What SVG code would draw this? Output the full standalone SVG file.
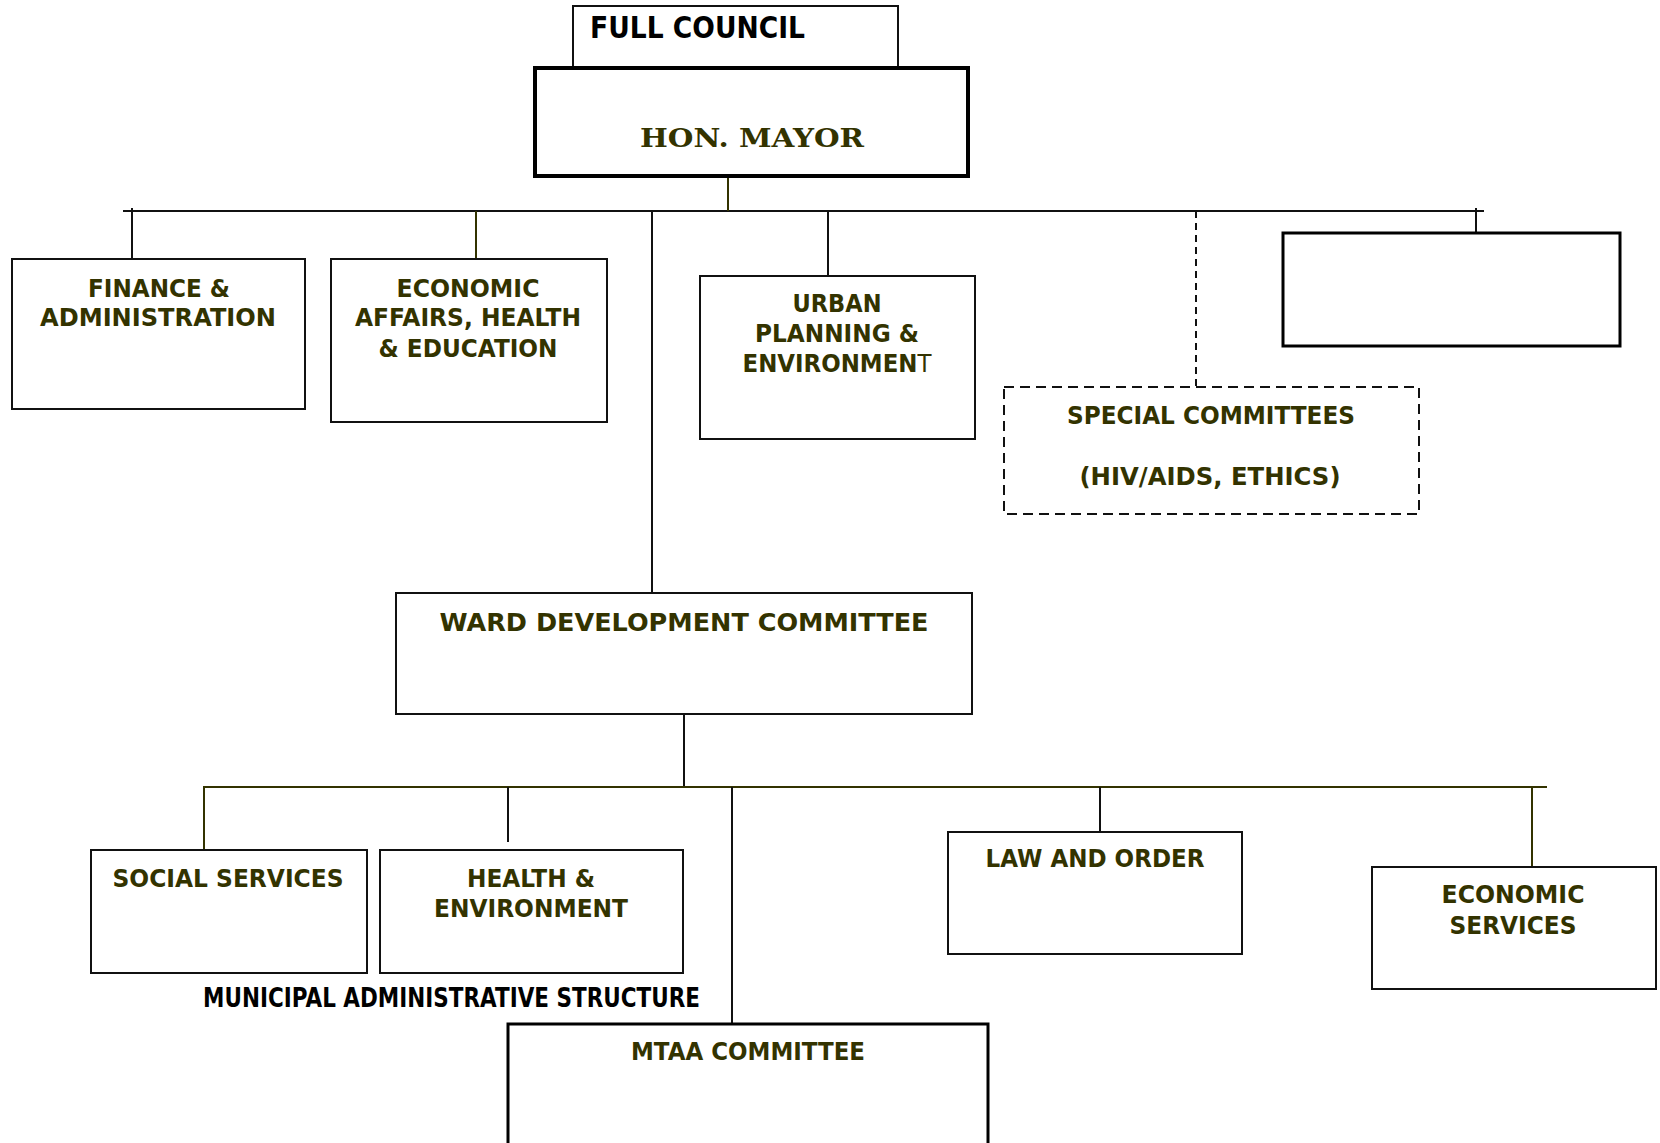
<svg xmlns="http://www.w3.org/2000/svg" width="1660" height="1143" viewBox="0 0 1660 1143">
<style>
.box{fill:#fff;stroke:#111;stroke-width:2}
.t{font-family:"DejaVu Sans",Verdana,sans-serif;font-weight:bold;font-size:25px;fill:#333300;text-anchor:middle}
.k{stroke:#111;stroke-width:2;fill:none}
.o{stroke:#333300;stroke-width:2;fill:none}
</style>
<rect width="1660" height="1143" fill="#fff"/>

<g id="connectors">
<line class="k" x1="123" y1="211" x2="1484" y2="211"/>
<line class="o" x1="728" y1="176" x2="728" y2="211"/>
<line class="k" x1="132" y1="208" x2="132" y2="259"/>
<line class="o" x1="476" y1="211" x2="476" y2="259"/>
<line class="k" x1="652" y1="211" x2="652" y2="595"/>
<line class="k" x1="828" y1="211" x2="828" y2="280"/>
<line class="k" x1="1196" y1="211" x2="1196" y2="387" stroke-dasharray="7 5"/>
<line class="k" x1="1476" y1="208" x2="1476" y2="233"/>
<line class="k" x1="684" y1="712" x2="684" y2="787"/>
<line class="o" x1="203" y1="787" x2="1547" y2="787"/>
<line class="o" x1="204" y1="787" x2="204" y2="850"/>
<line class="k" x1="508" y1="787" x2="508" y2="842"/>
<line class="k" x1="732" y1="787" x2="732" y2="1024"/>
<line class="k" x1="1100" y1="787" x2="1100" y2="841"/>
<line class="o" x1="1532" y1="787" x2="1532" y2="867"/>
</g>

<g id="full-council">
<rect class="box" x="573" y="6" width="325" height="64"/>
<text x="590" y="38" font-family="DejaVu Sans,Verdana,sans-serif" font-weight="bold" font-size="30" fill="#000" textLength="215" lengthAdjust="spacingAndGlyphs">FULL COUNCIL</text>
</g>

<g id="hon-mayor">
<rect x="535" y="68" width="433" height="108" fill="#fff" stroke="#000" stroke-width="4"/>
<text x="640" y="147" font-family="DejaVu Serif,Liberation Serif,serif" font-weight="bold" font-size="26" fill="#333300" textLength="224" lengthAdjust="spacingAndGlyphs">HON. MAYOR</text>
</g>

<g id="finance">
<rect class="box" x="12" y="259" width="293" height="150"/>
<text class="t" x="159" y="297" textLength="142" lengthAdjust="spacingAndGlyphs">FINANCE &amp;</text>
<text class="t" x="158" y="326" textLength="236" lengthAdjust="spacingAndGlyphs">ADMINISTRATION</text>
</g>

<g id="economic-affairs">
<rect class="box" x="331" y="259" width="276" height="163"/>
<text class="t" x="468" y="297" textLength="143" lengthAdjust="spacingAndGlyphs">ECONOMIC</text>
<text class="t" x="468" y="326" textLength="226" lengthAdjust="spacingAndGlyphs">AFFAIRS, HEALTH</text>
<text class="t" x="468" y="357" textLength="179" lengthAdjust="spacingAndGlyphs">&amp; EDUCATION</text>
</g>

<g id="urban-planning">
<rect class="box" x="700" y="276" width="275" height="163"/>
<text class="t" x="837" y="312" textLength="89" lengthAdjust="spacingAndGlyphs">URBAN</text>
<text class="t" x="837" y="342" textLength="164" lengthAdjust="spacingAndGlyphs">PLANNING &amp;</text>
<text class="t" x="837" y="372" textLength="189" lengthAdjust="spacingAndGlyphs">ENVIRONMEN<tspan font-weight="normal">T</tspan></text>
</g>

<g id="special-committees">
<rect x="1004" y="387" width="415" height="127" fill="#fff" stroke="#111" stroke-width="2" stroke-dasharray="10 6"/>
<text class="t" x="1211" y="424" textLength="288" lengthAdjust="spacingAndGlyphs">SPECIAL COMMITTEES</text>
<text class="t" x="1210" y="485" textLength="261" lengthAdjust="spacingAndGlyphs">(HIV/AIDS, ETHICS)</text>
</g>

<g id="empty-box">
<rect x="1283" y="233" width="337" height="113" fill="#fff" stroke="#000" stroke-width="3"/>
</g>

<g id="ward-development">
<rect class="box" x="396" y="593" width="576" height="121"/>
<text class="t" x="684" y="631" textLength="489" lengthAdjust="spacingAndGlyphs">WARD DEVELOPMENT COMMITTEE</text>
</g>

<g id="social-services">
<rect class="box" x="91" y="850" width="276" height="123"/>
<text class="t" x="228" y="887" textLength="231" lengthAdjust="spacingAndGlyphs">SOCIAL SERVICES</text>
</g>

<g id="health-environment">
<rect class="box" x="380" y="850" width="303" height="123"/>
<text class="t" x="531" y="887" textLength="128" lengthAdjust="spacingAndGlyphs">HEALTH &amp;</text>
<text class="t" x="531" y="917" textLength="194" lengthAdjust="spacingAndGlyphs">ENVIRONMENT</text>
</g>

<g id="law-order">
<rect class="box" x="948" y="832" width="294" height="122"/>
<text class="t" x="1095" y="867" textLength="219" lengthAdjust="spacingAndGlyphs">LAW AND ORDER</text>
</g>

<g id="economic-services">
<rect class="box" x="1372" y="867" width="284" height="122"/>
<text class="t" x="1513" y="903" textLength="143" lengthAdjust="spacingAndGlyphs">ECONOMIC</text>
<text class="t" x="1513" y="934" textLength="127" lengthAdjust="spacingAndGlyphs">SERVICES</text>
</g>

<g id="mtaa-committee">
<rect x="508" y="1024" width="480" height="140" fill="#fff" stroke="#000" stroke-width="3"/>
<text class="t" x="748" y="1060" textLength="234" lengthAdjust="spacingAndGlyphs">MTAA COMMITTEE</text>
</g>

<g id="caption">
<text x="203" y="1007" font-family="DejaVu Sans,Verdana,sans-serif" font-weight="bold" font-size="26" fill="#000" textLength="497" lengthAdjust="spacingAndGlyphs">MUNICIPAL ADMINISTRATIVE STRUCTURE</text>
</g>
</svg>
